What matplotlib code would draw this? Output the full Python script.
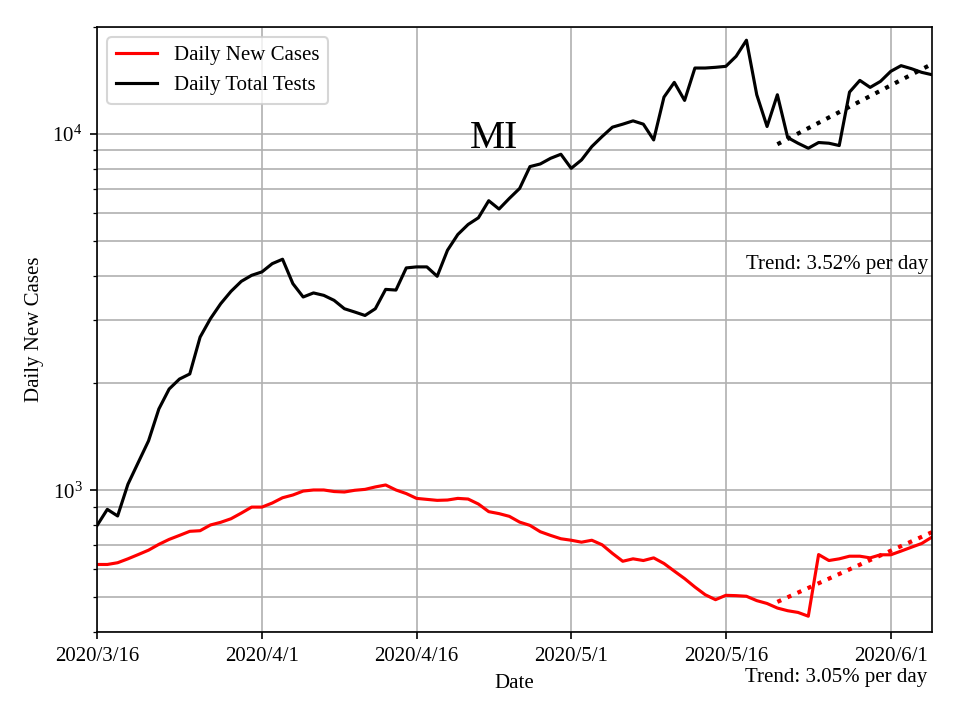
import numpy as np
import matplotlib
matplotlib.use("Agg")
import matplotlib.pyplot as plt
from matplotlib.ticker import LogLocator, NullFormatter

plt.rcParams['font.family'] = ['Liberation Serif', 'DejaVu Serif']
plt.rcParams['mathtext.fontset'] = 'stix'
plt.rcParams['font.size'] = 10

start_date = np.datetime64('2020-03-16')
n_days = 82
dates = start_date + np.arange(n_days).astype('timedelta64[D]')

daily_new_cases = [
    619, 619, 626, 642, 660, 679, 705, 728, 747, 767,
    770, 799, 813, 832, 863, 897, 897, 921, 953, 970,
    995, 1002, 1002, 992, 989, 1000, 1006, 1022, 1035, 1002,
    979, 949, 943, 937, 939, 949, 945, 915, 871, 860,
    845, 814, 797, 765, 747, 731, 724, 715, 724, 703,
    665, 632, 642, 635, 646, 623, 593, 565, 535, 509,
    493, 507, 506, 504, 490, 481, 467, 459, 454, 443,
    660, 635, 642, 653, 653, 646, 659, 659, 675, 692,
    709, 739,
]

daily_total_tests = [
    796, 884, 847, 1040, 1197, 1377, 1692, 1925, 2053, 2122,
    2692, 3032, 3342, 3620, 3862, 4015, 4105, 4330, 4455, 3805,
    3490, 3583, 3527, 3415, 3235, 3167, 3097, 3235, 3666, 3650,
    4212, 4240, 4240, 3990, 4722, 5228, 5578, 5825, 6504, 6163,
    6603, 7043, 8110, 8249, 8556, 8784, 8019, 8466, 9232, 9851,
    10465, 10670, 10900, 10670, 9637, 12710, 13980, 12440, 15340, 15340,
    15410, 15508, 16550, 18360, 12906, 10510, 12906, 9786, 9433, 9132,
    9476, 9433, 9293, 13130, 14160, 13535, 14070, 15015, 15576, 15276,
    14916, 14690,
]

# trend lines (last 16 days)
trend_start_index = 66
cases_trend_start = 486
cases_trend_rate = 0.0305
tests_trend_start = 9372
tests_trend_rate = 0.0352

tick_dates = ['2020-03-16', '2020-04-01', '2020-04-16', '2020-05-01', '2020-05-16', '2020-06-01']
tick_labels = ['2020/3/16', '2020/4/1', '2020/4/16', '2020/5/1', '2020/5/16', '2020/6/1']

state_label = 'MI'
cases_trend_text = 'Trend: 3.05% per day'
tests_trend_text = 'Trend: 3.52% per day'

fig = plt.figure(figsize=(6.4, 4.8), dpi=150)
ax = fig.add_axes([97/960, 1-632/720, (932-97)/960, (632-27)/720])

ax.plot(dates, daily_new_cases, color='red', lw=1.5, label='Daily New Cases')
ax.plot(dates, daily_total_tests, color='black', lw=1.5, label='Daily Total Tests')

t = np.arange(n_days - trend_start_index)
tdates = dates[trend_start_index:]
ax.plot(tdates, cases_trend_start * (1 + cases_trend_rate) ** t, color='red', ls=':', lw=2)
ax.plot(tdates, tests_trend_start * (1 + tests_trend_rate) ** t, color='black', ls=':', lw=2)

ax.set_yscale('log')
ax.set_ylim(400, 20000)
ax.set_xlim(dates[0], dates[-1])
ax.yaxis.set_minor_locator(LogLocator(base=10, subs=np.arange(2, 10)))
ax.yaxis.set_minor_formatter(NullFormatter())

ax.set_xticks([np.datetime64(d) for d in tick_dates])
ax.set_xticklabels(tick_labels)

ax.grid(True, which='major', axis='both', color='#b0b0b0', lw=0.8)
ax.grid(True, which='minor', axis='y', color='#b0b0b0', lw=0.8)

ax.set_xlabel('Date')
ax.set_ylabel('Daily New Cases')

ax.legend(loc='upper left')

ax.text(dates[38] + np.timedelta64(12, 'h'), 9175, state_label, fontsize=19,
        ha='center', va='baseline')
ax.text(dates[-1] - np.timedelta64(8, 'h'), 4193, tests_trend_text,
        ha='right', va='baseline')
ax.text(dates[-1] - np.timedelta64(12, 'h'), 289, cases_trend_text,
        ha='right', va='baseline', clip_on=False)

fig.savefig('out.png', dpi=150)
